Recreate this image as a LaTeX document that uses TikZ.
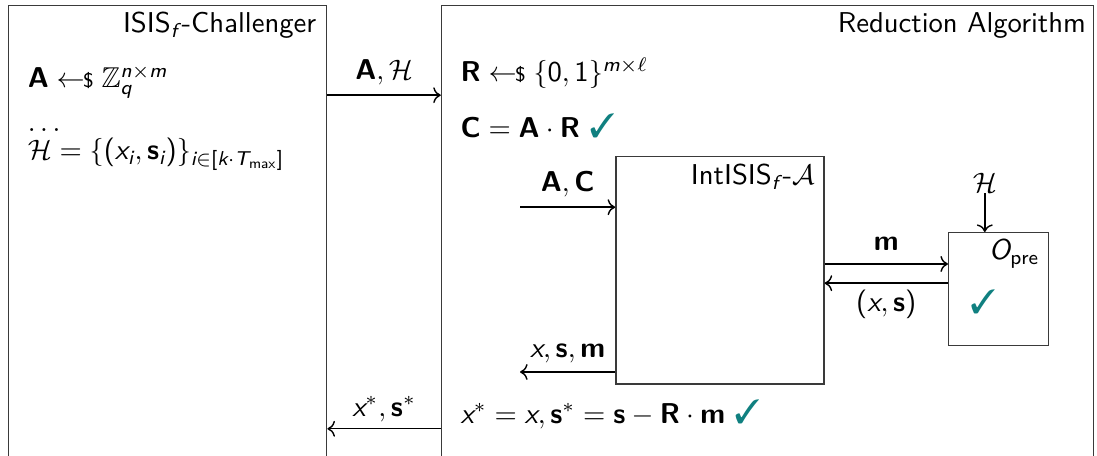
\documentclass[tikz,border=0pt]{standalone}
\usepackage{amssymb,pifont}
\usetikzlibrary{arrows.meta}
\renewcommand{\familydefault}{\sfdefault}
% sans letters and digits in math, as on a slide
\DeclareSymbolFont{sfletters}{TU}{lmss}{m}{sl}
\SetSymbolFont{operators}{normal}{TU}{lmss}{m}{n}
\SetMathAlphabet{\mathbf}{normal}{TU}{lmss}{bx}{n}
\SetMathAlphabet{\mathrm}{normal}{TU}{lmss}{m}{n}
\DeclareMathSymbol{x}{\mathalpha}{sfletters}{`x}
\DeclareMathSymbol{n}{\mathalpha}{sfletters}{`n}
\DeclareMathSymbol{m}{\mathalpha}{sfletters}{`m}
\DeclareMathSymbol{q}{\mathalpha}{sfletters}{`q}
\DeclareMathSymbol{i}{\mathalpha}{sfletters}{`i}
\DeclareMathSymbol{k}{\mathalpha}{sfletters}{`k}
\DeclareMathSymbol{f}{\mathalpha}{sfletters}{`f}
\DeclareMathSymbol{T}{\mathalpha}{sfletters}{`T}
\DeclareMathSymbol{O}{\mathalpha}{sfletters}{`O}
\definecolor{tickteal}{HTML}{108080}
\definecolor{frame}{HTML}{3A3A3A}
\newcommand{\sampleIn}{\mathrel{\leftarrow\!\!{\scriptstyle\$}}}
\newcommand{\okmark}{\textcolor{tickteal}{\large\ding{51}}}

\begin{document}
\begin{tikzpicture}[font=\fontsize{10.2}{12.5}\selectfont,
  every node/.style={inner sep=0pt},
  box/.style={draw=frame,line width=.5pt,anchor=north west},
  msg/.style={->,line width=.5pt}]
\useasboundingbox (0,0) rectangle (13.7125,5.7);
\clip (0,0) rectangle (13.7125,5.7);
% the two parties
\node[box,minimum width=3.975cm,minimum height=5.84cm] (chal) at (.10,5.64) {};
\node[box,minimum width=8.15cm,minimum height=5.84cm] (red) at (5.51,5.64) {};
\node[anchor=base east] (chaltitle) at (3.96,5.29) {ISIS$_f$\kern1pt-Challenger};
\node[anchor=base east] (redtitle) at (13.58,5.29) {Reduction Algorithm};
% challenger side
\node[anchor=base west] (sampA) at (.34,4.60) {$\mathbf{A} \sampleIn \mathbb{Z}_q^{n\times m}$};
\node[anchor=base west] (dots) at (.34,4.05) {$\dots$};
\node[anchor=base west] (hist) at (.34,3.70)
  {$\mathcal{H} = \{(x_i,\mathbf{s}_i)\}_{i\in[k\cdot T_{\mathrm{max}}]}$};
% reduction side
\node[anchor=base west] (sampR) at (5.75,4.675) {$\mathbf{R} \sampleIn \{0,1\}^{m\times\ell}$};
\node[anchor=base west] (matC) at (5.75,3.975) {$\mathbf{C} = \mathbf{A}\cdot\mathbf{R}$ \okmark};
\node[anchor=base west] (final) at (5.75,.41)
  {$x^* = x, \mathbf{s}^* = \mathbf{s} - \mathbf{R}\cdot\mathbf{m}$ \okmark};
% the IntISIS adversary and the preimage oracle
\node[box,minimum width=2.6cm,minimum height=2.84cm] (adv) at (7.69,3.75) {};
\node[anchor=base east] (advtitle) at (10.19,3.39) {IntISIS$_f$\kern1pt-$\mathcal{A}$};
\node[box,minimum width=1.25cm,minimum height=1.41cm] (opre) at (11.85,2.80) {};
\node[anchor=base east] (opretitle) at (13.00,2.45) {$O_{\mathrm{pre}}$};
\node (opreok) at (12.29,1.93) {\okmark};
\node[anchor=base] (hin) at (12.31,3.29) {$\mathcal{H}$};
% messages
\coordinate (rowAH) at (0,4.51);
\coordinate (rowXS) at (0,.34);
\coordinate (acin) at (6.50,3.11);
\coordinate (xsmout) at (6.50,1.05);
\coordinate (rowM) at (0,2.40);
\coordinate (rowXSo) at (0,2.16);
\draw[msg] (chal.east |- rowAH) -- node[above=3.5pt] {$\mathbf{A},\mathcal{H}$} (red.west |- rowAH);
\draw[msg] (red.west |- rowXS) -- node[above=2.3pt] {$x^*,\mathbf{s}^*$} (chal.east |- rowXS);
\draw[msg] (acin) -- node[above=3.5pt] {$\mathbf{A},\mathbf{C}$} (adv.west |- acin);
\draw[msg] (adv.west |- xsmout) -- node[above=3pt] {$x,\mathbf{s},\mathbf{m}$} (xsmout);
\draw[msg] (adv.east |- rowM) -- node[above=4.5pt] {$\mathbf{m}$} (opre.west |- rowM);
\draw[msg] (opre.west |- rowXSo) -- node[below=2pt] {$(x,\mathbf{s})$} (adv.east |- rowXSo);
\draw[msg] (hin.south) -- (hin.south |- opre.north);
\end{tikzpicture}
\end{document}
